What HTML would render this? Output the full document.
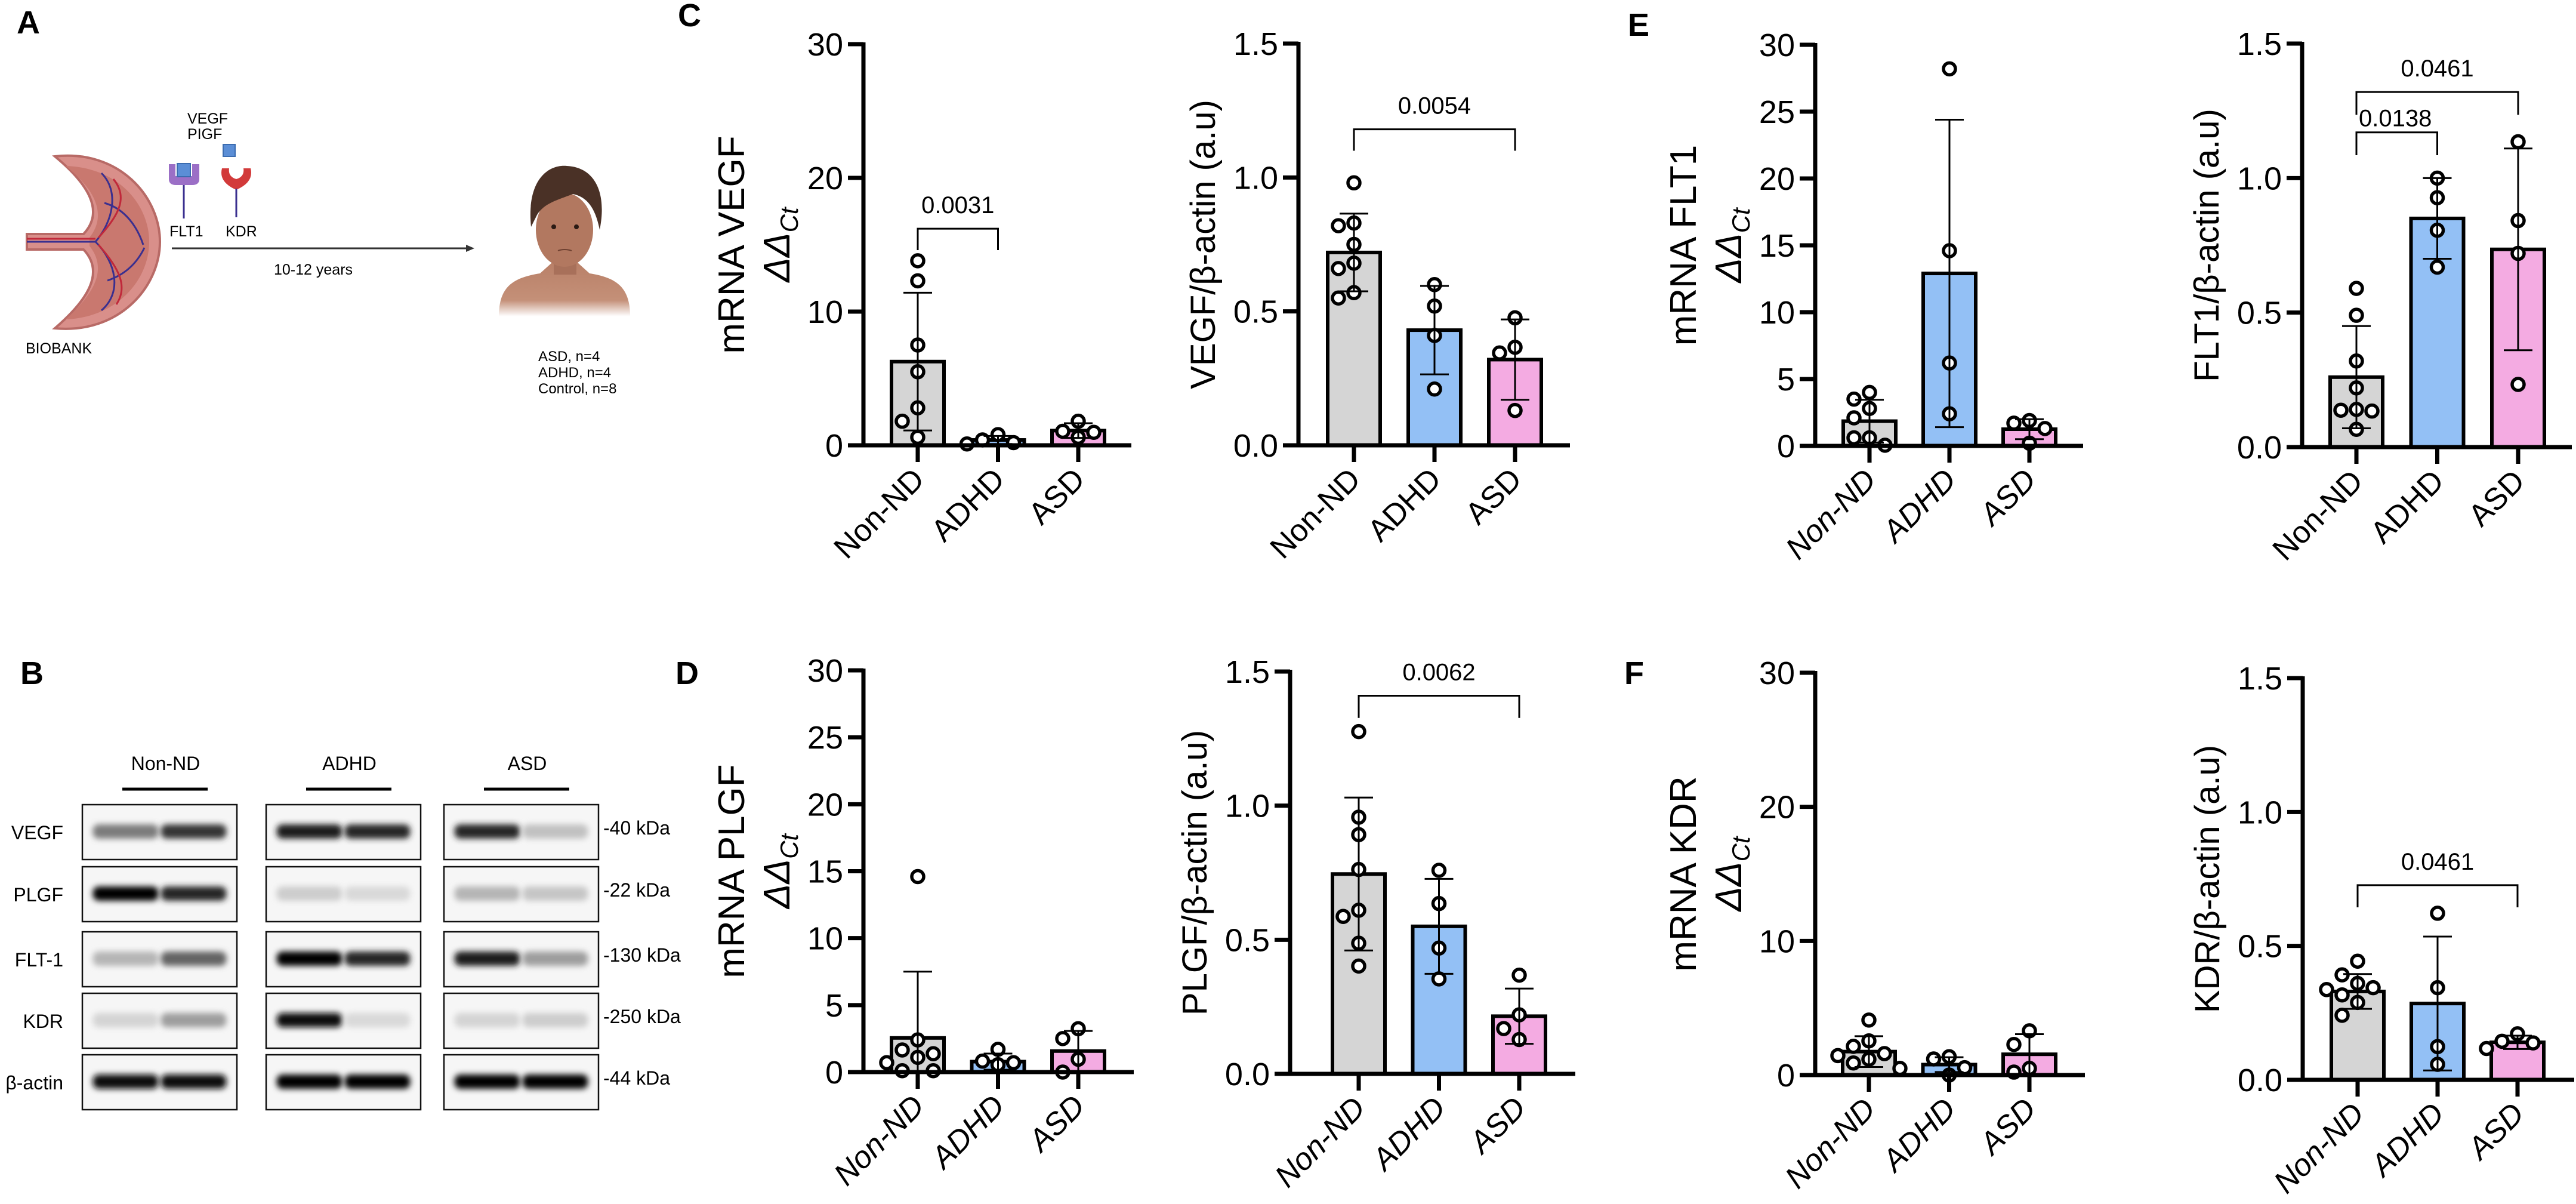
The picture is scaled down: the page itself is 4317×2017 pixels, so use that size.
<!DOCTYPE html>
<html><head><meta charset="utf-8">
<style>
html,body{margin:0;padding:0;background:#fff;}
svg{display:block;font-family:"Liberation Sans",Arial,sans-serif;}
</style></head>
<body>
<svg id="fig" width="4317" height="2017" viewBox="0 0 4317 2017" xmlns="http://www.w3.org/2000/svg">
<defs>
  <filter id="blur6" x="-20%" y="-60%" width="140%" height="220%"><feGaussianBlur stdDeviation="5"/></filter>
  <linearGradient id="skinfade" x1="0" y1="0" x2="0" y2="1">
    <stop offset="0" stop-color="#b98068"/><stop offset="0.7" stop-color="#c49078"/><stop offset="1" stop-color="#fff"/>
  </linearGradient>
</defs>

<g font-weight="bold" font-size="54">
  <text x="28" y="56">A</text>
  <text x="34" y="1146">B</text>
  <text x="1136" y="44">C</text>
  <text x="1132" y="1146">D</text>
  <text x="2728" y="60">E</text>
  <text x="2722" y="1146">F</text>
</g>

<g>
  <g>
    <path d="M92,262 C200,250 268,330 268,405 C268,480 200,560 92,550 C150,500 175,455 140,418 L45,418 L45,392 L140,392 C175,355 150,310 92,262 Z" fill="#d98f8a" stroke="#b86a66" stroke-width="4"/>
    <path d="M110,278 C195,280 250,340 250,405 C250,470 195,532 110,535 C160,490 180,450 150,412 L150,398 C180,360 160,318 110,278 Z" fill="#c9786f"/>
    <path d="M45,405 L160,405 M160,405 C190,370 200,320 170,290 M160,405 C195,440 205,490 170,520 M175,340 C210,350 230,380 240,410 M180,470 C210,460 230,440 242,415" stroke="#3a2f8f" stroke-width="3" fill="none"/>
    <path d="M45,400 L160,400 M165,398 C200,360 215,330 190,300 M165,410 C200,450 215,480 195,510" stroke="#c0283a" stroke-width="3" fill="none"/>
  </g>
  <text x="314" y="207" font-size="25">VEGF</text>
  <text x="314" y="233" font-size="25">PIGF</text>
  <g>
    <path d="M283,275 L294,275 L294,295 L322,295 L322,275 L334,275 L334,300 Q334,310 322,310 L295,310 Q283,310 283,300 Z" fill="#9b6fc6"/>
    <rect x="297" y="274" width="22" height="22" fill="#5b8ed6" stroke="#3b6cb0" stroke-width="2"/>
    <line x1="308" y1="310" x2="308" y2="366" stroke="#3a2f8f" stroke-width="3"/>
  </g>
  <g>
    <rect x="374" y="242" width="20" height="20" fill="#5b8ed6" stroke="#3b6cb0" stroke-width="2"/>
    <path d="M372,282 Q366,305 396,318 Q426,305 420,282 L408,282 Q410,296 396,300 Q382,296 384,282 Z" fill="#d23a3a"/>
    <line x1="396" y1="316" x2="396" y2="364" stroke="#3a2f8f" stroke-width="3"/>
  </g>
  <text x="284" y="396" font-size="25">FLT1</text>
  <text x="378" y="396" font-size="25">KDR</text>
  <line x1="288" y1="416" x2="785" y2="416" stroke="#333" stroke-width="3"/>
  <polygon points="795,416 781,410 781,422" fill="#333"/>
  <text x="459" y="460" font-size="25">10-12 years</text>
  <text x="43" y="592" font-size="25">BIOBANK</text>
  <g>
    <path d="M836,530 C836,480 860,465 905,458 L925,440 L968,440 L988,458 C1032,465 1056,480 1056,530 Z" fill="url(#skinfade)"/>
    <rect x="928" y="420" width="38" height="40" fill="#a8705a"/>
    <ellipse cx="946" cy="385" rx="48" ry="62" fill="#b27860"/>
    <path d="M890,380 C882,300 920,275 950,278 C995,280 1018,320 1005,385 C998,350 985,330 960,325 C935,335 912,340 900,360 Z" fill="#4a3126"/>
    <circle cx="928" cy="380" r="4" fill="#2a1a14"/><circle cx="966" cy="380" r="4" fill="#2a1a14"/>
    <path d="M935,420 Q946,416 958,420" stroke="#6e4030" stroke-width="2" fill="none"/>
  </g>
  <text x="902" y="605" font-size="24">ASD, n=4</text>
  <text x="902" y="632" font-size="24">ADHD, n=4</text>
  <text x="902" y="659" font-size="24">Control, n=8</text>
</g>

<g id="blots" font-size="32"></g>
<g id="charts"></g>

<script>
const categories = ['Non-ND', 'ADHD', 'ASD'];
const ticks30a = [0, 10, 20, 30];
const ticks30b = [0, 5, 10, 15, 20, 25, 30];
const ticks15 = [0, 0.5, 1.0, 1.5];
const tickLabels15 = ['0.0', '0.5', '1.0', '1.5'];

const c1Means = [6.26, 0.4, 1.1];
const c1SD = [5.15, 0.3, 0.55];
const c1Points = [[13.8, 12.3, 7.5, 5.5, 2.8, 1.8, 0.6], [0.2, 0.8, 0.1, 0.4], [1.8, 0.6, 1.05, 0.97]];
const c1Brackets = [{ from: 0, to: 1, y: 16.2, leg: 14.6, label: '0.0031' }];

const c2Means = [0.72, 0.43, 0.32];
const c2SD = [0.145, 0.165, 0.15];
const c2Points = [[0.98, 0.82, 0.83, 0.75, 0.68, 0.66, 0.57, 0.55], [0.60, 0.52, 0.41, 0.21], [0.476, 0.366, 0.345, 0.13]];
const c2Brackets = [{ from: 0, to: 2, y: 1.18, leg: 1.10, label: '0.0054' }];

const d1Means = [2.55, 0.78, 1.57];
const d1SD = [4.95, 0.6, 1.5];
const d1Points = [[14.6, 2.4, 1.65, 1.37, 1.1, 0.7, 0.1, 0.1], [1.7, 0.82, 0.7, 0.55], [3.24, 2.5, 0.96, 0.0]];
const d1Brackets = [];

const d2Means = [0.745, 0.55, 0.215];
const d2SD = [0.285, 0.177, 0.103];
const d2Points = [[1.276, 0.957, 0.892, 0.762, 0.61, 0.587, 0.487, 0.402], [0.759, 0.635, 0.469, 0.354], [0.368, 0.22, 0.169, 0.128]];
const d2Brackets = [{ from: 0, to: 2, y: 1.41, leg: 1.327, label: '0.0062' }];

const e1Means = [1.85, 12.9, 1.25];
const e1SD = [1.6, 11.5, 0.75];
const e1Points = [[4.0, 3.5, 2.8, 2.1, 0.6, 0.6, 0.05], [28.2, 14.6, 6.2, 2.4], [1.9, 1.7, 1.3, 0.2]];
const e1Brackets = [];

const e2Means = [0.26, 0.85, 0.735];
const e2SD = [0.19, 0.15, 0.375];
const e2Points = [[0.59, 0.49, 0.32, 0.22, 0.14, 0.137, 0.134, 0.066], [1.0, 0.927, 0.806, 0.669], [1.135, 0.842, 0.72, 0.233]];
const e2Brackets = [{ from: 0, to: 1, y: 1.17, leg: 1.085, label: '0.0138', left: true }, { from: 0, to: 2, y: 1.32, leg: 1.235, label: '0.0461' }];

const f1Means = [1.75, 0.78, 1.55];
const f1SD = [1.15, 0.55, 1.5];
const f1Points = [[4.1, 2.55, 2.14, 1.6, 1.45, 1.18, 0.9, 0.5], [1.37, 1.2, 0.55, 0.0], [3.3, 2.28, 0.5, 0.22]];
const f1Brackets = [];

const f2Means = [0.33, 0.285, 0.14];
const f2SD = [0.065, 0.25, 0.025];
const f2Points = [[0.443, 0.392, 0.36, 0.344, 0.337, 0.317, 0.289, 0.241], [0.622, 0.344, 0.124, 0.058], [0.172, 0.144, 0.138, 0.117]];
const f2Brackets = [{ from: 0, to: 2, y: 0.727, leg: 0.644, label: '0.0461' }];

const NS = 'http://www.w3.org/2000/svg';
function mk(tag, attrs, parent) {
  const e = document.createElementNS(NS, tag);
  for (const k in attrs) e.setAttribute(k, attrs[k]);
  if (parent) parent.appendChild(e);
  return e;
}
const colors = ['#d5d5d5', '#93c0f5', '#f4abe2'];
const charts = [
  { id: 'c1', ax: 1447, x0: 1538, step: 134.5, top: 74, bot: 746, max: 30, ticks: ticks30a, tl: null, xEnd: 1896, t1: 'mRNA VEGF', mrna: true, ital: false, means: c1Means, sd: c1SD, pts: c1Points, br: c1Brackets },
  { id: 'c2', ax: 2176, x0: 2269, step: 135, top: 73, bot: 746, max: 1.5, ticks: ticks15, tl: tickLabels15, xEnd: 2631, t1: 'VEGF/β-actin (a.u)', mrna: false, ital: false, means: c2Means, sd: c2SD, pts: c2Points, br: c2Brackets },
  { id: 'e1', ax: 3042, x0: 3133, step: 134, top: 75, bot: 747, max: 30, ticks: ticks30b, tl: null, xEnd: 3491, t1: 'mRNA FLT1', mrna: true, ital: true, means: e1Means, sd: e1SD, pts: e1Points, br: e1Brackets },
  { id: 'e2', ax: 3858, x0: 3949, step: 135.5, top: 73, bot: 749, max: 1.5, ticks: ticks15, tl: tickLabels15, xEnd: 4310, t1: 'FLT1/β-actin (a.u)', mrna: false, ital: false, means: e2Means, sd: e2SD, pts: e2Points, br: e2Brackets },
  { id: 'd1', ax: 1447, x0: 1538, step: 134.5, top: 1123, bot: 1796, max: 30, ticks: ticks30b, tl: null, xEnd: 1900, t1: 'mRNA PLGF', mrna: true, ital: true, means: d1Means, sd: d1SD, pts: d1Points, br: d1Brackets },
  { id: 'd2', ax: 2162, x0: 2277, step: 134.5, top: 1125, bot: 1799, max: 1.5, ticks: ticks15, tl: tickLabels15, xEnd: 2640, t1: 'PLGF/β-actin (a.u)', mrna: false, ital: true, means: d2Means, sd: d2SD, pts: d2Points, br: d2Brackets },
  { id: 'f1', ax: 3042, x0: 3132, step: 134.5, top: 1127, bot: 1801, max: 30, ticks: ticks30a, tl: null, xEnd: 3494, t1: 'mRNA KDR', mrna: true, ital: true, means: f1Means, sd: f1SD, pts: f1Points, br: f1Brackets },
  { id: 'f2', ax: 3859, x0: 3951, step: 134, top: 1136, bot: 1809, max: 1.5, ticks: ticks15, tl: tickLabels15, xEnd: 4314, t1: 'KDR/β-actin (a.u)', mrna: false, ital: true, means: f2Means, sd: f2SD, pts: f2Points, br: f2Brackets }
];

const root = document.getElementById('charts');
charts.forEach(c => {
  const g = mk('g', {}, root);
  
  
  const y = v => c.bot - v / c.max * (c.bot - c.top);
  const x = i => c.x0 + i * c.step;
  const BW = 88;

  c.means.forEach((m, i) => {
    const r = mk('rect', { x: x(i) - BW / 2, y: y(m), width: BW, height: c.bot - y(m), fill: colors[i], stroke: '#000', 'stroke-width': 6 }, g);
    
    
  });

  const R = 10;
  c.pts.forEach((arr, i) => {
    const placed = [];
    const sorted = arr.slice().sort((a, b) => b - a);
    sorted.forEach(v => {
      const py = y(v);
      const offs = [0, -26, 26, -52, 52, -39, 39, -13, 13];
      let px = x(i);
      for (const o of offs) {
        const cx = x(i) + o;
        if (placed.every(p => Math.hypot(p[0] - cx, p[1] - py) >= 2 * R + 5)) { px = cx; break; }
      }
      placed.push([px, py]);
      const ci = mk('circle', { cx: px, cy: py, r: R, fill: '#fff', stroke: '#000', 'stroke-width': 5.5 }, g);
      
      
    });
  });

  c.means.forEach((m, i) => {
    const hi = y(m + c.sd[i]);
    const lo = y(Math.max(0, m - c.sd[i]));
    const eg = mk('g', { stroke: '#000', 'stroke-width': 3 }, g);
    
    
    mk('line', { x1: x(i), y1: hi, x2: x(i), y2: lo }, eg);
    mk('line', { x1: x(i) - 24, y1: hi, x2: x(i) + 24, y2: hi }, eg);
    if (m - c.sd[i] > 0) mk('line', { x1: x(i) - 24, y1: lo, x2: x(i) + 24, y2: lo }, eg);
  });

  const axg = mk('g', { stroke: '#000', 'stroke-width': 7 }, g);
  
  
  mk('line', { x1: c.ax, y1: c.top - 3, x2: c.ax, y2: c.bot }, axg);
  mk('line', { x1: c.ax - 26, y1: c.bot, x2: c.xEnd, y2: c.bot }, axg);
  c.ticks.forEach((t, k) => {
    mk('line', { x1: c.ax - 26, y1: y(t), x2: c.ax, y2: y(t) }, axg);
    const tx = mk('text', { x: c.ax - 34, y: y(t) + 19, 'font-size': 54, 'text-anchor': 'end', stroke: 'none', fill: '#000' }, g);
    tx.textContent = c.tl ? c.tl[k] : String(t);
    
    
  });
  categories.forEach((cat, i) => {
    mk('line', { x1: x(i), y1: c.bot, x2: x(i), y2: c.bot + 28 }, axg);
    const lx = x(i) + 14, ly = c.bot + 60;
    const tx = mk('text', { x: lx, y: ly, 'font-size': 52, 'text-anchor': 'end', transform: 'rotate(-45 ' + lx + ' ' + ly + ')', 'font-style': c.ital ? 'italic' : 'normal' }, g);
    tx.textContent = cat;
    
    
  });

  const cy = (c.top + c.bot) / 2;
  if (c.mrna) {
    const bx1 = c.ax - 200, bx2 = c.ax - 124;
    const t1 = mk('text', { x: bx1, y: cy, 'font-size': 62, 'text-anchor': 'middle', transform: 'rotate(-90 ' + bx1 + ' ' + cy + ')' }, g);
    t1.textContent = c.t1;
    
    
    const t2 = mk('text', { x: bx2, y: cy, 'font-size': 62, 'text-anchor': 'middle', 'font-style': 'italic', transform: 'rotate(-90 ' + bx2 + ' ' + cy + ')' }, g);
    
    
    const s1 = mk('tspan', {}, t2); s1.textContent = 'ΔΔ';
    const s2 = mk('tspan', { 'font-size': 42, dy: 14 }, t2); s2.textContent = 'Ct';
  } else {
    const bx = c.ax - 140;
    const t1 = mk('text', { x: bx, y: cy, 'font-size': 58, 'text-anchor': 'middle', transform: 'rotate(-90 ' + bx + ' ' + cy + ')' }, g);
    t1.textContent = c.t1;
    
    
  }

  c.br.forEach(b => {
    const bg = mk('g', {}, g);
    
    
    const yb = y(b.y), yl = y(b.leg);
    mk('path', { d: 'M' + x(b.from) + ',' + yl + ' L' + x(b.from) + ',' + yb + ' L' + x(b.to) + ',' + yb + ' L' + x(b.to) + ',' + yl, fill: 'none', stroke: '#000', 'stroke-width': 3 }, bg);
    const t = b.left
      ? mk('text', { x: x(b.from) + 4, y: yb - 10, 'font-size': 40 }, bg)
      : mk('text', { x: (x(b.from) + x(b.to)) / 2, y: yb - 26, 'font-size': 40, 'text-anchor': 'middle' }, bg);
    t.textContent = b.label;
  });
});

const blotRows = ['VEGF', 'PLGF', 'FLT-1', 'KDR', 'β-actin'];
const blotKda = ['-40 kDa', '-22 kDa', '-130 kDa', '-250 kDa', '-44 kDa'];
const blotGroups = ['Non-ND', 'ADHD', 'ASD'];
const bandIntensity = [
  [[0.5, 0.8], [0.9, 0.85], [0.85, 0.2]],
  [[1.0, 0.85], [0.15, 0.1], [0.25, 0.18]],
  [[0.25, 0.6], [1.0, 0.85], [0.9, 0.35]],
  [[0.12, 0.35], [0.95, 0.1], [0.12, 0.15]],
  [[0.95, 0.95], [1.0, 1.0], [1.0, 1.0]]
];
const bl = document.getElementById('blots');
const colX = [138, 446, 744];
const rowY = [1348, 1452, 1561, 1664, 1767];
const BWID = 259, BHT = 92;
blotGroups.forEach((gname, gi) => {
  const t = mk('text', { x: colX[gi] + BWID / 2 + 10, y: 1290, 'text-anchor': 'middle' }, bl);
  t.textContent = gname;
  
  
  mk('line', { x1: colX[gi] + 67, y1: 1322, x2: colX[gi] + 210, y2: 1322, stroke: '#000', 'stroke-width': 5 }, bl);
});
blotRows.forEach((rname, ri) => {
  const t = mk('text', { x: 106, y: rowY[ri] + BHT / 2 + 12, 'text-anchor': 'end' }, bl);
  t.textContent = rname;
  
  
  const k = mk('text', { x: 1011, y: rowY[ri] + BHT / 2 + 4 }, bl);
  k.textContent = blotKda[ri];
  
  
  blotGroups.forEach((gname, gi) => {
    const bx = colX[gi], by = rowY[ri];
    const box = mk('g', {}, bl);
    
    
    mk('rect', { x: bx, y: by, width: BWID, height: BHT, fill: '#f6f6f6', stroke: '#111', 'stroke-width': 2.5 }, box);
    bandIntensity[ri][gi].forEach((v, li) => {
      const cxb = bx + (li === 0 ? 0.28 : 0.72) * BWID;
      const shade = Math.round(240 - v * 235);
      mk('rect', { x: cxb - 55, y: by + BHT / 2 - 13, width: 110, height: 24, rx: 10, fill: 'rgb(' + shade + ',' + shade + ',' + shade + ')', filter: 'url(#blur6)' }, box);
    });
  });
});
</script>
</svg>
</body></html>
